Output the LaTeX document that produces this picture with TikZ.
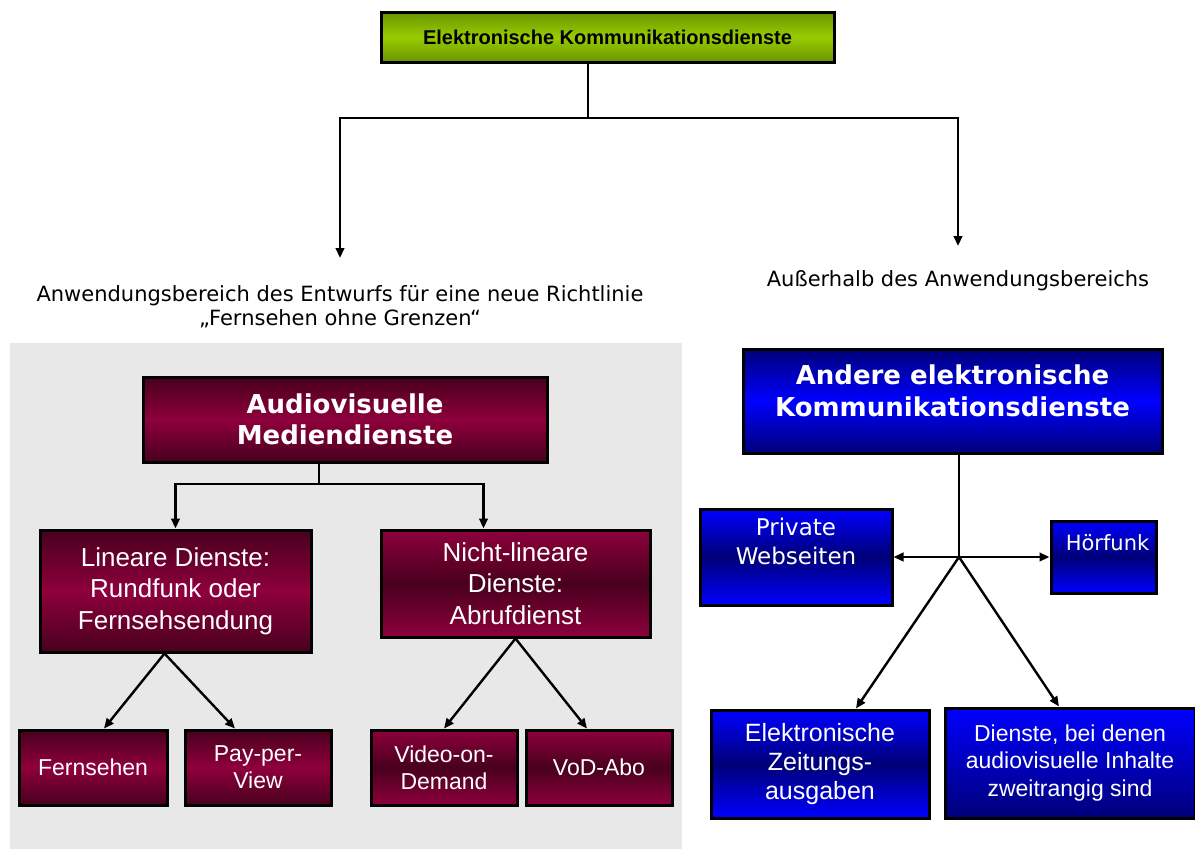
\documentclass[tikz,border=0pt]{standalone}
\usepackage{fontspec}
\setmainfont{Liberation Sans}
\newfontfamily\verd{DejaVu Sans}
\usepackage{tikz}
\usetikzlibrary{arrows.meta}
\definecolor{wdark}{RGB}{72,0,30}
\definecolor{wlight}{RGB}{142,0,60}
\definecolor{bdark}{RGB}{0,0,120}
\definecolor{blight}{RGB}{0,0,255}
\definecolor{gdark}{RGB}{104,148,0}
\definecolor{glight}{RGB}{153,204,0}
\definecolor{scopegrey}{RGB}{232,232,232}

\begin{document}
\begin{tikzpicture}[x=1pt, y=-1pt,
  conn/.style={line width=2.4pt},
  arr/.style={conn, -{Triangle[length=10pt, width=8.5pt]}},
  tile/.style={draw, line width=3pt, align=center, text=white, inner sep=2pt},
  wine/.style={tile, top color=wdark, bottom color=wdark, middle color=wlight},
  wineflip/.style={tile, top color=wlight, bottom color=wlight, middle color=wdark},
  navy/.style={tile, top color=bdark, bottom color=bdark, middle color=blight},
  navyflip/.style={tile, top color=blight, bottom color=blight, middle color=bdark},
  sized/.style 2 args={minimum width=#1, minimum height=#2},
  arial/.style 2 args={font=\fontsize{#1}{#2}\selectfont},
  verdana/.style 2 args={font=\verd\fontsize{#1}{#2}\selectfont},
]
  \useasboundingbox (0,0) rectangle (1195,849);
  \fill[scopegrey] (10,343) rectangle (682,849);

  % top
  \node[tile, text=black, top color=gdark, bottom color=gdark, middle color=glight,
        sized={453pt}{50pt}, font=\bfseries\fontsize{20}{24}\selectfont] (top) at (607.5,37) {Elektronische Kommunikationsdienste};
  \coordinate (split) at (588,118);
  \coordinate (inL) at (340,258);
  \coordinate (outR) at (958,246);
  \draw[conn] (split |- top.south) -- (split);
  \draw[arr] (split) -| (inL);
  \draw[arr] (split) -| (outR);

  \node[verdana={21}{23.5}, align=center] (inlab) at (340,306.5) {Anwendungsbereich des Entwurfs für eine neue Richtlinie\\„Fernsehen ohne Grenzen“};
  \node[verdana={21}{23.5}] (outlab) at (958,281) {Außerhalb des Anwendungsbereichs};

  % audiovisual side
  \node[wine, sized={404pt}{85pt}, font=\verd\bfseries\fontsize{26}{31}\selectfont] (av) at (345,419.5) {Audiovisuelle\\Mediendienste};
  \node[wine, sized={271pt}{122pt}, arial={26}{31.5}] (lin) at (175.5,591) {Lineare Dienste:\\Rundfunk oder\\Fernsehsendung};
  \node[wineflip, sized={269pt}{107pt}, arial={26}{31.5}] (nlin) at (515.5,583.5) {Nicht-lineare\\Dienste:\\Abrufdienst};
  \node[wine, sized={148pt}{75pt}, arial={23}{27}] (fern) at (93,767.5) {Fernsehen};
  \node[wine, sized={146pt}{75pt}, arial={23}{27}] (ppv) at (258,767.5) {Pay-per-\\View};
  \node[wineflip, sized={146pt}{75pt}, arial={23}{27}] (vod) at (444,767.5) {Video-on-\\Demand};
  \node[wineflip, sized={146pt}{75pt}, arial={23}{27}] (abo) at (599,767.5) {VoD-Abo};

  \coordinate (avsplit) at (319,484);
  \draw[conn] (avsplit |- av.south) -- (avsplit);
  \draw[arr] (avsplit) -| (lin.north);
  \draw[arr] (avsplit) -| ([xshift=-32pt]nlin.north);
  \draw[arr] ([xshift=-11pt]lin.south) -- ([xshift=11pt]fern.north);
  \draw[arr] ([xshift=-11pt]lin.south) -- ([xshift=-23pt]ppv.north);
  \draw[arr] (nlin.south) -- (vod.north);
  \draw[arr] (nlin.south) -- ([xshift=-12pt]abo.north);

  % other side
  \node[navy, sized={419pt}{104pt}] (other) at (952.5,401) {};
  \node[text=white, align=center, font=\verd\bfseries\fontsize{26}{32}\selectfont] (othert) at ([yshift=10pt]other.center) {Andere elektronische\\Kommunikationsdienste};
  \node[navyflip, sized={192pt}{96pt}] (priv) at (796,557) {};
  \node[text=white, align=center, verdana={23}{29}] (privt) at ([yshift=16pt]priv.center) {Private\\Webseiten};
  \node[navyflip, sized={105pt}{72pt}] (hoer) at (1103.5,557) {};
  \node[text=white, verdana={21}{25}] (hoert) at ([xshift=4pt, yshift=14pt]hoer.center) {Hörfunk};
  \node[navyflip, sized={218pt}{108pt}, arial={25}{29}] (zeit) at (820,764) {Elektronische\\Zeitungs-\\ausgaben};
  \node[tile, top color=blight, bottom color=bdark, sized={250pt}{110pt}, arial={23}{27.5}] (sek) at (1070,763) {Dienste, bei denen\\audiovisuelle Inhalte\\zweitrangig sind};

  \coordinate (hub) at (959,557);
  \draw[conn] (hub |- other.south) -- (hub);
  \draw[arr] (hub) -- (priv.east);
  \draw[arr] (hub) -- (hoer.west);
  \draw[arr] (hub) -- ([xshift=36pt]zeit.north);
  \draw[arr] (hub) -- ([xshift=-11pt]sek.north);
\end{tikzpicture}
\end{document}
